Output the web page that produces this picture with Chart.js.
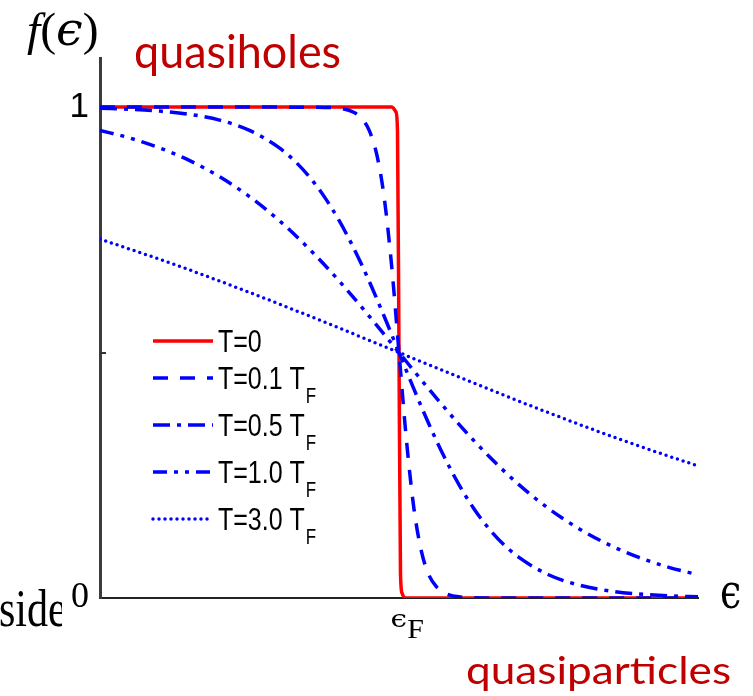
<!DOCTYPE html>
<html>
<head>
<meta charset="utf-8">
<script src="https://cdn.jsdelivr.net/npm/chart.js@4/dist/chart.umd.min.js"></script>
<style>
  html, body { margin: 0; padding: 0; background: #fff; }
  #wrap { position: relative; width: 753px; height: 696px; }
</style>
</head>
<body>
<div id="wrap"><canvas id="c" width="753" height="696"></canvas></div>
<script>
// ---------------- data ----------------
const seriesNames = ['T=0', 'T=0.1 T_F', 'T=0.5 T_F', 'T=1.0 T_F', 'T=3.0 T_F'];

// energy in units of the Fermi energy (0 .. 2), occupation f
const xT0  = [0, 0.975, 0.99, 0.995, 1.0, 1.005, 1.01, 1.025, 2];
const yT0  = [1, 1, 0.99, 0.95, 0.5, 0.05, 0.01, 0, 0];

const xT01 = [0, 0.7, 0.8, 0.85, 0.875, 0.9, 0.925, 0.95, 0.975, 1.0, 1.025, 1.05, 1.075, 1.1, 1.125, 1.15, 1.2, 1.3, 2];
const yT01 = [1, 0.9999, 0.9975, 0.989, 0.977, 0.953, 0.905, 0.818, 0.679, 0.5, 0.321, 0.182, 0.095, 0.047, 0.023, 0.011, 0.0025, 0.0001, 0];

const xT05 = [0, 0.1, 0.2, 0.3, 0.4, 0.5, 0.6, 0.65, 0.7, 0.75, 0.8, 0.85, 0.9, 0.95, 1.0, 1.05, 1.1, 1.15, 1.2, 1.25, 1.3, 1.35, 1.4, 1.5, 1.6, 1.7, 1.8, 1.9, 2];
const yT05 = [0.9975, 0.9955, 0.9918, 0.9852, 0.9734, 0.9526, 0.9168, 0.8909, 0.8581, 0.8176, 0.7685, 0.7109, 0.6457, 0.5744, 0.5, 0.4256, 0.3543, 0.2891, 0.2315, 0.1824, 0.1419, 0.1091, 0.0832, 0.0474, 0.0266, 0.0148, 0.0082, 0.0045, 0.0025];

const xT10 = [0, 0.1, 0.2, 0.3, 0.4, 0.5, 0.6, 0.7, 0.8, 0.9, 1.0, 1.1, 1.2, 1.3, 1.4, 1.5, 1.6, 1.7, 1.8, 1.9, 2];
const yT10 = [0.9526, 0.937, 0.9168, 0.8909, 0.8581, 0.8176, 0.7685, 0.7109, 0.6457, 0.5744, 0.5, 0.4256, 0.3543, 0.2891, 0.2315, 0.1824, 0.1419, 0.1091, 0.0832, 0.063, 0.0474];

const xT30 = [0, 0.25, 0.5, 0.75, 1.0, 1.25, 1.5, 1.75, 2];
const yT30 = [0.7311, 0.6792, 0.6225, 0.5622, 0.5, 0.4378, 0.3775, 0.3208, 0.2689];

const yTickValues = [0, 0.5, 1];
const yTickLabels = ['0', '', '1'];
const xTickValues = [1];
const xTickLabels = ['ϵ_F'];
const axisLabelX = 'ϵ';
const axisLabelY = ['f', '(', 'ϵ', ')'];
const annotations = ['quasiholes', 'quasiparticles', 'side'];

// ---------------- helpers ----------------
const pts = (xs, ys) => xs.map((x, i) => ({ x: x, y: ys[i] }));

function fitText(ctx, parts, box, color) {
  ctx.save();
  ctx.textAlign = 'left';
  ctx.textBaseline = 'alphabetic';
  let off = 0, L = Infinity, R = -Infinity, A = 0, D = 0;
  const offs = [];
  parts.forEach(p => {
    ctx.font = p.f;
    const m = ctx.measureText(p.t);
    offs.push(off);
    L = Math.min(L, off - m.actualBoundingBoxLeft);
    R = Math.max(R, off + m.actualBoundingBoxRight);
    A = Math.max(A, m.actualBoundingBoxAscent);
    D = Math.max(D, m.actualBoundingBoxDescent);
    off += m.width;
  });
  const sx = (box.r - box.l) / (R - L);
  const sy = (box.b - box.t) / (A + D);
  ctx.translate(box.l - L * sx, box.t + A * sy);
  ctx.scale(sx, sy);
  ctx.fillStyle = color;
  parts.forEach((p, i) => { ctx.font = p.f; ctx.fillText(p.t, offs[i], 0); });
  ctx.restore();
}

const legendRows = [341, 378, 425, 472, 519];

const decorPlugin = {
  id: 'decor',
  afterDraw(chart) {
    const ctx = chart.ctx;
    const xs = chart.scales.x, ys = chart.scales.y;
    const area = chart.chartArea;

    // middle y tick mark (inward)
    ctx.save();
    ctx.strokeStyle = '#333';
    ctx.lineWidth = 2;
    const ym = Math.round(ys.getPixelForValue(yTickValues[1]));
    ctx.beginPath();
    ctx.moveTo(area.left, ym);
    ctx.lineTo(area.left + 6, ym);
    ctx.stroke();
    ctx.restore();

    // x tick label eps_F
    xTickValues.forEach((v, i) => {
      const px = xs.getPixelForValue(v);
      const [main, sub] = xTickLabels[i].split('_');
      fitText(ctx, [{ t: main, f: '40px "DejaVu Serif"' }], { l: px - 7, r: px + 7, t: 615, b: 628 }, '#000');
      if (sub) fitText(ctx, [{ t: sub, f: '40px "Liberation Serif"' }], { l: px + 9, r: px + 24, t: 620, b: 638 }, '#000');
    });

    // axis labels
    fitText(ctx, [{ t: axisLabelX, f: '40px "DejaVu Serif"' }], { l: 722, r: 740, t: 582, b: 609 }, '#000');
    fitText(ctx, [
      { t: axisLabelY[0], f: 'italic 40px "Liberation Serif"' },
      { t: axisLabelY[1], f: '40px "Liberation Serif"' },
      { t: axisLabelY[2], f: 'italic 40px "DejaVu Serif"' },
      { t: axisLabelY[3], f: '40px "Liberation Serif"' }
    ], { l: 27, r: 97, t: 12, b: 55 }, '#000');

    // annotations
    fitText(ctx, [{ t: annotations[0], f: '44px Lato' }], { l: 135, r: 340, t: 33, b: 76 }, '#c00000');
    fitText(ctx, [{ t: annotations[1], f: '44px Lato' }], { l: 467, r: 730, t: 655, b: 691 }, '#c00000');
    ctx.save();
    ctx.beginPath();
    ctx.rect(0, 0, 62, 696);
    ctx.clip();
    fitText(ctx, [{ t: annotations[2], f: '40px "Liberation Serif"' }], { l: 0, r: 66, t: 588, b: 626 }, '#000');
    ctx.restore();

    // legend
    chart.data.datasets.forEach((ds, i) => {
      const y = legendRows[i];
      ctx.save();
      ctx.strokeStyle = ds.borderColor;
      ctx.lineWidth = ds.borderWidth;
      ctx.lineCap = ds.borderCapStyle || 'butt';
      ctx.setLineDash(ds.borderDash || []);
      ctx.beginPath();
      ctx.moveTo(153, y);
      ctx.lineTo(213, y);
      ctx.stroke();
      ctx.restore();

      const [main, sub] = ds.label.split('_');
      ctx.save();
      ctx.fillStyle = '#000';
      ctx.textAlign = 'left';
      ctx.textBaseline = 'alphabetic';
      ctx.font = '25px "Liberation Sans"';
      const w = ctx.measureText(main).width;
      ctx.translate(218, y + 11);
      ctx.scale(1, 1.28);
      ctx.fillText(main, 0, 0);
      if (sub) {
        ctx.font = '17px "Liberation Sans"';
        ctx.fillText(sub, w + 1, 11);
      }
      ctx.restore();
    });
  }
};

const datasets = [
  { label: seriesNames[0], data: pts(xT0, yT0), borderColor: '#ff0000', borderWidth: 3.5, borderDash: [], order: 10, cubicInterpolationMode: 'monotone' },
  { label: seriesNames[1], data: pts(xT01, yT01), borderColor: '#0000ff', borderWidth: 3.5, borderDash: [15, 12], order: 1, cubicInterpolationMode: 'monotone' },
  { label: seriesNames[2], data: pts(xT05, yT05), borderColor: '#0000ff', borderWidth: 3.5, borderDash: [17, 7, 4, 7], order: 2, cubicInterpolationMode: 'monotone' },
  { label: seriesNames[3], data: pts(xT10, yT10), borderColor: '#0000ff', borderWidth: 3.5, borderDash: [14, 7, 4, 7, 4, 7], order: 3, cubicInterpolationMode: 'monotone' },
  { label: seriesNames[4], data: pts(xT30, yT30), borderColor: '#0000ff', borderWidth: 3.5, borderDash: [0, 6], borderCapStyle: 'round', order: 4, cubicInterpolationMode: 'monotone' }
];
datasets.forEach(d => { d.pointRadius = 0; d.fill = false; d.borderJoinStyle = 'round'; });

new Chart(document.getElementById('c'), {
  type: 'line',
  data: { datasets: datasets },
  options: {
    responsive: false,
    devicePixelRatio: 1,
    animation: false,
    events: [],
    layout: { padding: { top: 58, right: 55, bottom: 0, left: 0 } },
    plugins: { legend: { display: false }, tooltip: { enabled: false } },
    scales: {
      x: {
        type: 'linear', min: 0, max: 2,
        grid: { display: false, drawTicks: false },
        border: { display: true, color: '#222', width: 2 },
        ticks: { display: false },
        afterFit: s => { s.height = 98; }
      },
      y: {
        type: 'linear', min: 0, max: 1.1,
        grid: { display: false, drawTicks: false },
        border: { display: true, color: '#3c3c3c', width: 3 },
        afterBuildTicks: s => { s.ticks = yTickValues.map(v => ({ value: v })); },
        ticks: {
          padding: 11,
          color: '#000',
          callback: (v, i) => yTickLabels[i],
          font: c => (c.tick && c.tick.value === 0)
            ? { family: '"Liberation Serif"', size: 36 }
            : { family: '"Liberation Sans"', size: 35 }
        },
        afterFit: s => { s.width = 100; }
      }
    }
  },
  plugins: [decorPlugin]
});
</script>
</body>
</html>
